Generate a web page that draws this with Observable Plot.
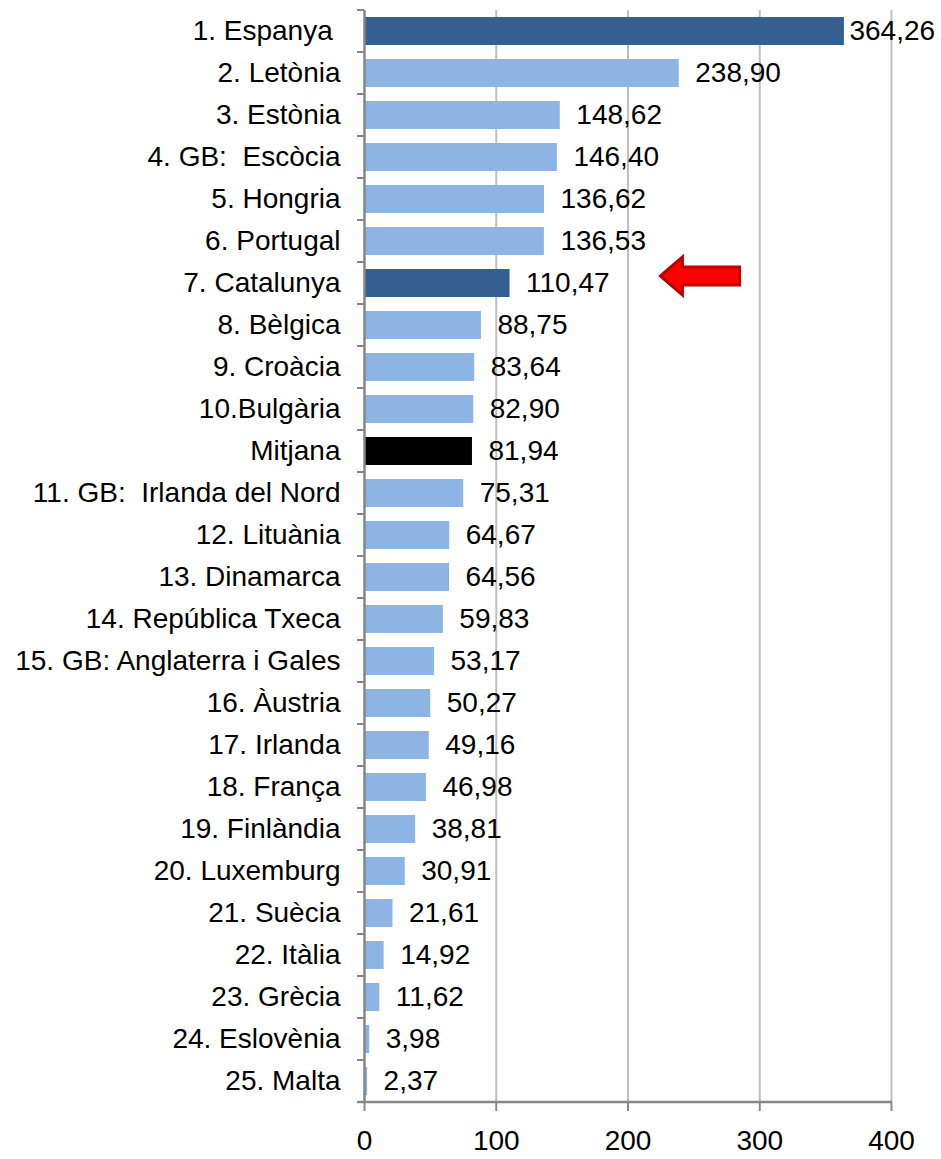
<!DOCTYPE html>
<html>
<head>
<meta charset="utf-8">
<script src="https://cdn.jsdelivr.net/npm/d3@7"></script>
<script src="https://cdn.jsdelivr.net/npm/@observablehq/plot@0.6"></script>
<style>
  html, body { margin: 0; padding: 0; background: #fff; }
  svg text { white-space: pre; }
</style>
</head>
<body>
<div id="chart"></div>
<script>
const categories = [
  "1. Espanya ", "2. Letònia", "3. Estònia", "4. GB:  Escòcia", "5. Hongria",
  "6. Portugal", "7. Catalunya", "8. Bèlgica", "9. Croàcia", "10.Bulgària",
  "Mitjana", "11. GB:  Irlanda del Nord", "12. Lituània", "13. Dinamarca",
  "14. República Txeca", "15. GB: Anglaterra i Gales", "16. Àustria", "17. Irlanda",
  "18. França", "19. Finlàndia", "20. Luxemburg", "21. Suècia", "22. Itàlia",
  "23. Grècia", "24. Eslovènia", "25. Malta"
];
const values = [
  364.26, 238.90, 148.62, 146.40, 136.62, 136.53, 110.47, 88.75, 83.64, 82.90,
  81.94, 75.31, 64.67, 64.56, 59.83, 53.17, 50.27, 49.16, 46.98, 38.81,
  30.91, 21.61, 14.92, 11.62, 3.98, 2.37
];
const highlighted = ["1. Espanya ", "7. Catalunya"];
const averageLabel = "Mitjana";
const xTicks = [0, 100, 200, 300, 400];
const gridTicks = [100, 200, 300, 400];
const arrowRow = "7. Catalunya";
const arrowFrom = 285;
const arrowTo = 225;

const data = categories.map((name, i) => ({name, value: values[i]}));
const fmt = v => d3.format(".2f")(v).replace(".", ",");
const colorOf = d => d.name === averageLabel ? "#000000" : highlighted.includes(d.name) ? "#365F91" : "#8EB4E3";
const FS = 28;

const plot = Plot.plot({
  width: 941,
  height: 1159,
  marginLeft: 364,
  marginRight: 50,
  marginTop: 10,
  marginBottom: 56,
  x: {domain: [0, 400]},
  y: {domain: categories, paddingInner: 0.33, paddingOuter: 0.165},
  style: {fontFamily: "'Liberation Sans', Arial, sans-serif", fontSize: FS + "px", color: "#000", background: "#fff"},
  marks: [
    Plot.ruleX(gridTicks, {stroke: "#BFBFBF", strokeWidth: 2}),
    Plot.barX(data, {x: "value", y: "name", fill: colorOf}),
    Plot.ruleX([0], {stroke: "#868686", strokeWidth: 2.5}),
    Plot.text(data.filter(d => d.name !== categories[0]), {x: "value", y: "name", text: d => fmt(d.value), textAnchor: "start", dx: 16, fill: "#000", fontSize: FS}),
    Plot.text(data.filter(d => d.name === categories[0]), {x: "value", y: "name", text: d => fmt(d.value), textAnchor: "start", dx: 5, fill: "#000", fontSize: FS}),
    Plot.axisY({tickSize: 0, tickPadding: 24, fontSize: FS, fill: "#000", label: null}),
    Plot.axisX(xTicks, {tickSize: 8, tickPadding: 19, stroke: "#868686", strokeWidth: 2, fill: "#000", fontSize: FS, label: null})
  ]
});

document.getElementById("chart").appendChild(plot);

// Boundary ticks, bottom axis line and arrow, placed with Plot's own scales
const xs = plot.scale("x");
const ys = plot.scale("y");
const step = ys.step ?? (ys.bandwidth / (1 - 0.33));
const gap = (step - ys.bandwidth) / 2;
const x0 = xs.apply(0);
const x400 = xs.apply(400);
const g = d3.select(plot).append("g");
const bounds = categories.map(c => ys.apply(c) - gap);
bounds.push(ys.apply(categories[categories.length - 1]) + ys.bandwidth + gap);
g.selectAll("line.tk").data(bounds).join("line")
  .attr("x1", x0 - 7).attr("x2", x0).attr("y1", d => d).attr("y2", d => d)
  .attr("stroke", "#868686").attr("stroke-width", 2);
const yBottom = bounds[bounds.length - 1];
g.append("line").attr("x1", x0 - 7).attr("x2", x400 + 1).attr("y1", yBottom).attr("y2", yBottom)
  .attr("stroke", "#868686").attr("stroke-width", 2.5);

const tipX = xs.apply(arrowTo);
const tailX = xs.apply(arrowFrom);
const cy = ys.apply(arrowRow) + ys.bandwidth / 2 - 7;
const headLen = 22, headHalf = 19, shaftHalf = 9;
const path = [
  [tipX, cy], [tipX + headLen, cy - headHalf], [tipX + headLen, cy - shaftHalf],
  [tailX, cy - shaftHalf], [tailX, cy + shaftHalf], [tipX + headLen, cy + shaftHalf],
  [tipX + headLen, cy + headHalf]
];
g.append("path").attr("d", "M" + path.map(p => p.join(",")).join("L") + "Z")
  .attr("fill", "#FF0000").attr("stroke", "#C00000").attr("stroke-width", 3).attr("stroke-linejoin", "miter");
</script>
</body>
</html>
